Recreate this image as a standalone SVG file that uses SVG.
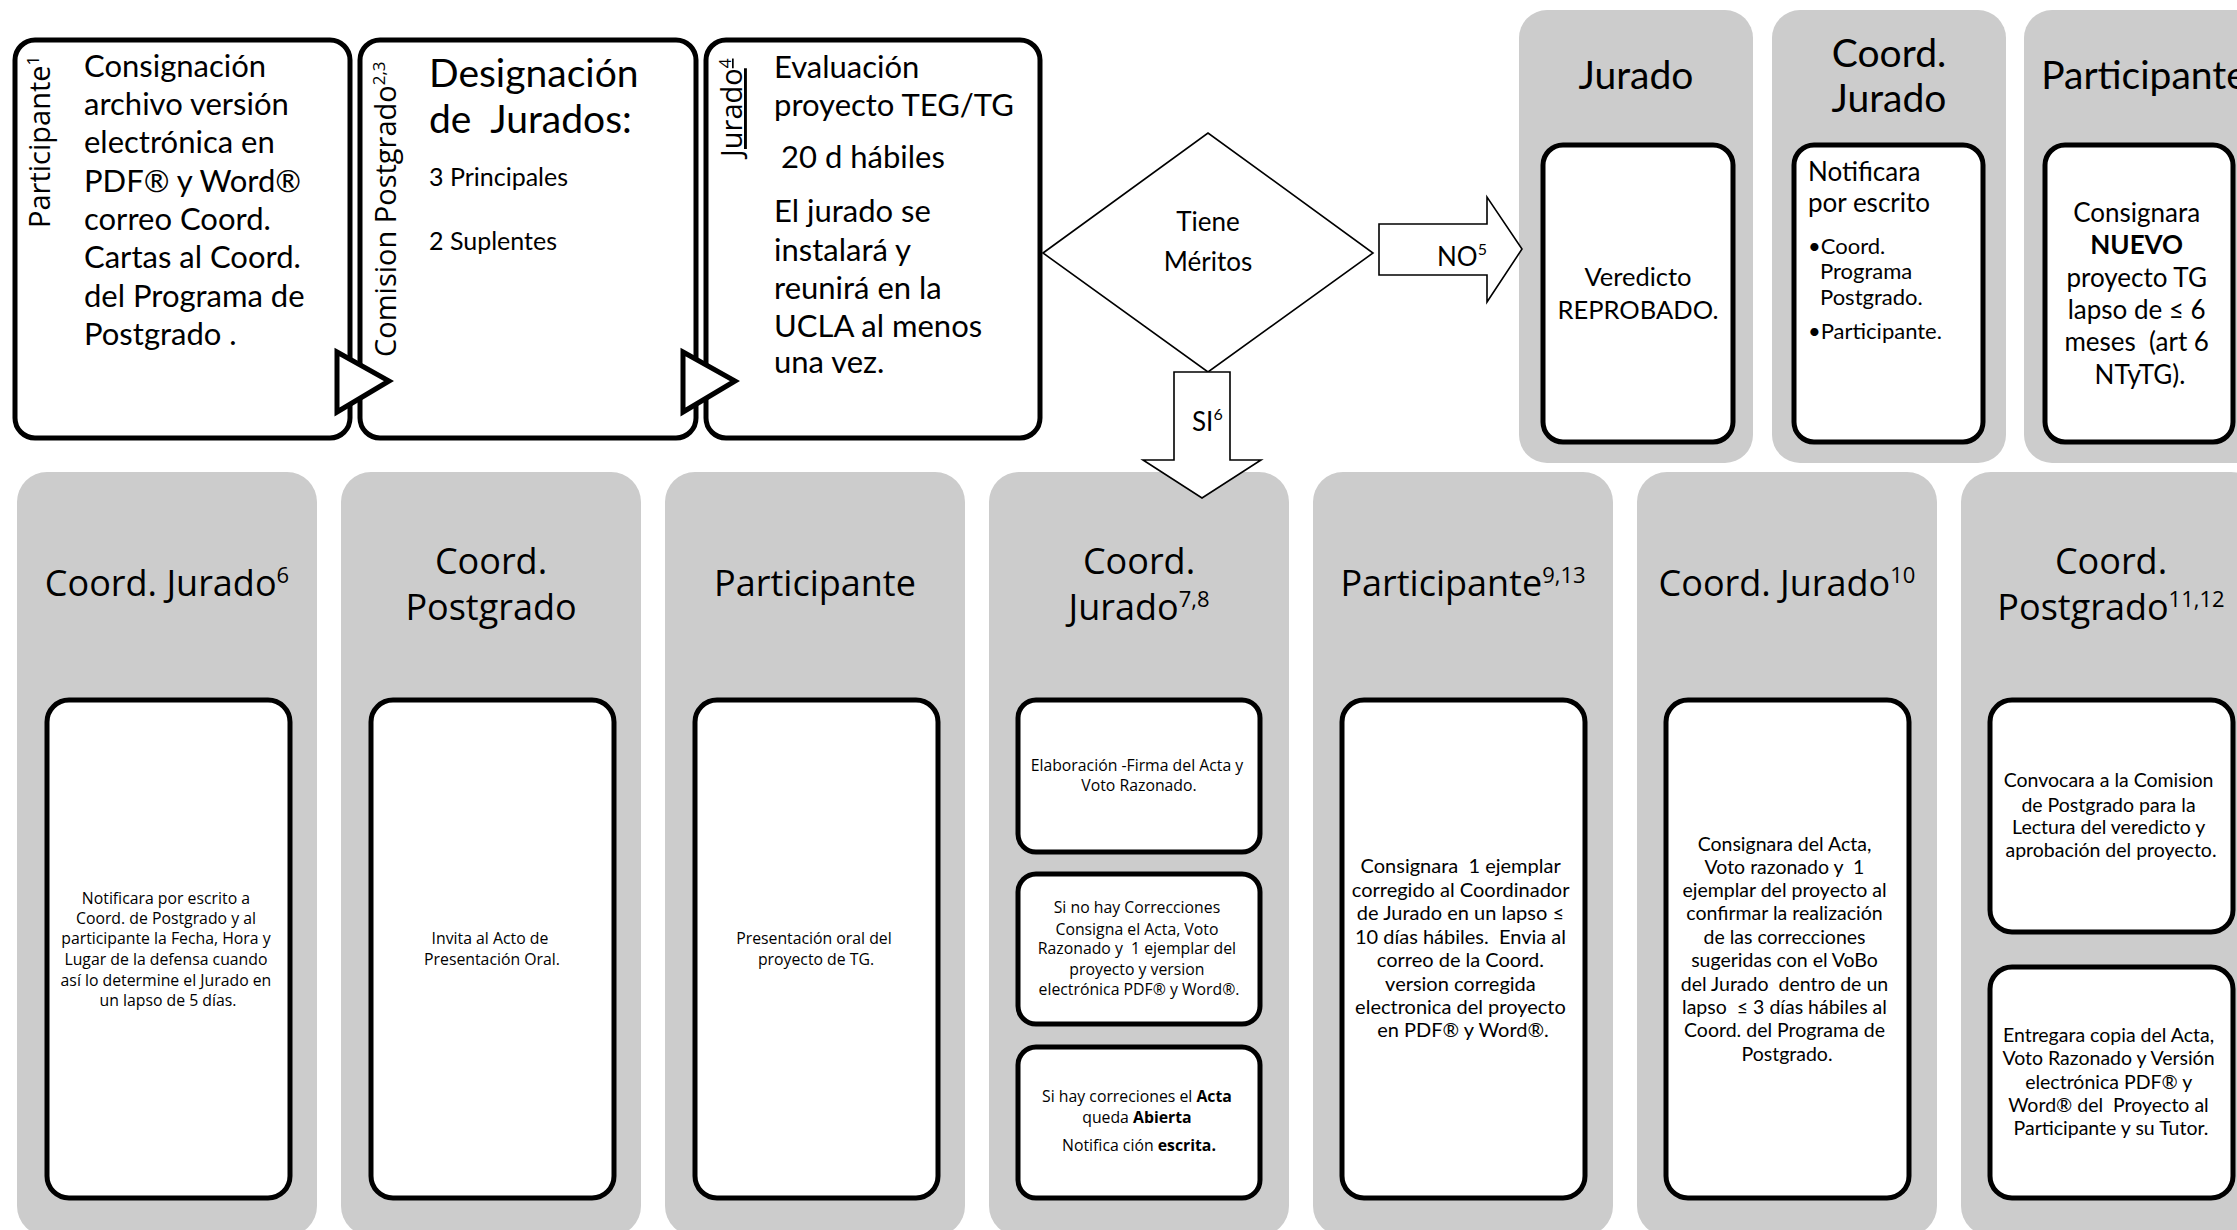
<svg xmlns="http://www.w3.org/2000/svg" width="2237" height="1230" viewBox="0 0 2237 1230">
<style>
.bg{fill:#ffffff}
.panel{fill:#cccccc}
.box{fill:#ffffff;stroke:#000000;stroke-width:5}
.thin{fill:#ffffff;stroke:#000000;stroke-width:1.6}
.tri{fill:#ffffff;stroke:#000000;stroke-width:5;stroke-linejoin:miter}
.cal{font-family:Lato,"Liberation Sans",sans-serif;fill:#000}
.os{font-family:"Open Sans","Liberation Sans",sans-serif;fill:#000}
.m{text-anchor:middle}
.b{font-weight:bold}
.t31{font-size:31px}
.h36{font-size:36px}
.h39{font-size:39px}
.s16{font-size:15.8px}
.s19{font-size:19.5px}
.s20{font-size:20px}
</style>
<rect class="bg" x="0" y="0" width="2237" height="1230"/>

<g id="top-participante">
<rect class="box" x="15" y="40" width="335" height="398" rx="20"/>
<text class="os" font-size="29" transform="translate(50,228) rotate(-90)">Participante<tspan dy="-11" font-size="17">1</tspan></text>
<text class="cal t31" x="84">
<tspan x="84" y="77">Consignación</tspan>
<tspan x="84" y="115">archivo versión</tspan>
<tspan x="84" y="153">electrónica en</tspan>
<tspan x="84" y="192">PDF® y Word®</tspan>
<tspan x="84" y="230">correo Coord.</tspan>
<tspan x="84" y="268">Cartas al Coord.</tspan>
<tspan x="84" y="307">del Programa de</tspan>
<tspan x="84" y="345">Postgrado .</tspan>
</text>
</g>

<g id="top-comision">
<rect class="box" x="360" y="40" width="336" height="398" rx="20"/>
<text class="os" font-size="29" transform="translate(396,357) rotate(-90)">Comision Postgrado<tspan dy="-11" font-size="17">2,3</tspan></text>
<text class="cal" font-size="39" x="429" y="87">Designación</text>
<text class="cal" font-size="39" x="429" y="133">de&#160; Jurados:</text>
<text class="cal" font-size="25" x="429" y="186">3 Principales</text>
<text class="cal" font-size="25" x="429" y="250">2 Suplentes</text>
</g>

<g id="top-jurado">
<rect class="box" x="706" y="40" width="334" height="398" rx="20"/>
<text class="os" font-size="29" text-decoration="underline" transform="translate(742,157) rotate(-90)">Jurado<tspan dy="-11" font-size="17">4</tspan></text>
<text class="cal t31">
<tspan x="774" y="78">Evaluación</tspan>
<tspan x="774" y="116">proyecto TEG/TG</tspan>
<tspan x="781" y="168">20 d hábiles</tspan>
<tspan x="774" y="222">El jurado se</tspan>
<tspan x="774" y="261">instalará y</tspan>
<tspan x="774" y="299">reunirá en la</tspan>
<tspan x="774" y="337">UCLA al menos</tspan>
<tspan x="774" y="373">una vez.</tspan>
</text>
</g>

<g id="decision">
<polygon class="thin" points="1043,253 1208,133 1373,253 1208,372"/>
<text class="cal m" font-size="26" x="1208" y="231">Tiene</text>
<text class="cal m" font-size="26" x="1208" y="271">Méritos</text>
</g>

<g id="panel-jurado">
<rect class="panel" x="1519" y="10" width="234" height="453" rx="28"/>
<text class="cal m h39" x="1636" y="89">Jurado</text>
<rect class="box" x="1543" y="145" width="190" height="297" rx="20"/>
<text class="cal m" font-size="25.5" x="1638" y="286">Veredicto</text>
<text class="cal m" font-size="25.5" x="1638" y="319">REPROBADO.</text>
</g>

<g id="panel-coord-jurado-top">
<rect class="panel" x="1772" y="10" width="234" height="453" rx="28"/>
<text class="cal m h39" x="1889" y="67">Coord.</text>
<text class="cal m h39" x="1889" y="112">Jurado</text>
<rect class="box" x="1794" y="145" width="189" height="297" rx="20"/>
<text class="cal" font-size="26" x="1808" y="181">Notificara</text>
<text class="cal" font-size="26" x="1808" y="212">por escrito</text>
<text class="cal" font-size="22">
<tspan x="1808" y="254">•Coord.</tspan>
<tspan x="1820" y="279">Programa</tspan>
<tspan x="1820" y="305">Postgrado.</tspan>
<tspan x="1808" y="339">•Participante.</tspan>
</text>
</g>

<g id="panel-participante-top">
<rect class="panel" x="2024" y="10" width="240" height="453" rx="28"/>
<text class="cal m h39" x="2144" y="89">Participante</text>
<rect class="box" x="2045" y="145" width="188" height="297" rx="20"/>
<text class="cal m" font-size="26">
<tspan x="2140" y="222">Consignara</tspan>
<tspan x="2140" y="254" class="b">NUEVO</tspan>
<tspan x="2140" y="287">proyecto TG</tspan>
<tspan x="2140" y="319">lapso de ≤ 6</tspan>
<tspan x="2140" y="351">meses&#160; (art 6</tspan>
<tspan x="2140" y="384">NTyTG).</tspan>
</text>
</g>

<g id="panel-coord-jurado-6">
<rect class="panel" x="17" y="472" width="300" height="764" rx="30"/>
<text class="os m h36" x="167" y="596">Coord. Jurado<tspan dy="-13" font-size="22">6</tspan></text>
<rect class="box" x="47" y="700" width="243" height="498" rx="22"/>
<text class="os m s16">
<tspan x="168" y="904">Notificara por escrito a</tspan>
<tspan x="168" y="924">Coord. de Postgrado y al</tspan>
<tspan x="168" y="944">participante la Fecha, Hora y</tspan>
<tspan x="168" y="965">Lugar de la defensa cuando</tspan>
<tspan x="168" y="986">así lo determine el Jurado en</tspan>
<tspan x="168" y="1006">un lapso de 5 días.</tspan>
</text>
</g>

<g id="panel-coord-postgrado">
<rect class="panel" x="341" y="472" width="300" height="764" rx="30"/>
<text class="os m h36" x="491" y="574">Coord.</text>
<text class="os m h36" x="491" y="620">Postgrado</text>
<rect class="box" x="371" y="700" width="243" height="498" rx="22"/>
<text class="os m s16">
<tspan x="492" y="944">Invita al Acto de</tspan>
<tspan x="492" y="965">Presentación Oral.</tspan>
</text>
</g>

<g id="panel-participante-oral">
<rect class="panel" x="665" y="472" width="300" height="764" rx="30"/>
<text class="os m h36" x="815" y="596">Participante</text>
<rect class="box" x="695" y="700" width="243" height="498" rx="22"/>
<text class="os m s16">
<tspan x="816" y="944">Presentación oral del</tspan>
<tspan x="816" y="965">proyecto de TG.</tspan>
</text>
</g>

<g id="panel-coord-jurado-78">
<rect class="panel" x="989" y="472" width="300" height="764" rx="30"/>
<text class="os m h36" x="1139" y="574">Coord.</text>
<text class="os m h36" x="1139" y="620">Jurado<tspan dy="-13" font-size="22">7,8</tspan></text>
<rect class="box" x="1018" y="700" width="242" height="152" rx="18"/>
<text class="os m s16">
<tspan x="1139" y="771">Elaboración -Firma del Acta y</tspan>
<tspan x="1139" y="791">Voto Razonado.</tspan>
</text>
<rect class="box" x="1018" y="874" width="242" height="150" rx="18"/>
<text class="os m s16">
<tspan x="1139" y="913">Si no hay Correcciones</tspan>
<tspan x="1139" y="935">Consigna el Acta, Voto</tspan>
<tspan x="1139" y="954">Razonado y&#160; 1 ejemplar del</tspan>
<tspan x="1139" y="975">proyecto y version</tspan>
<tspan x="1139" y="995">electrónica PDF® y Word®.</tspan>
</text>
<rect class="box" x="1018" y="1047" width="242" height="151" rx="18"/>
<text class="os m s16">
<tspan x="1139" y="1102">Si hay correciones el <tspan class="b">Acta</tspan></tspan>
<tspan x="1139" y="1123">queda <tspan class="b">Abierta</tspan></tspan>
<tspan x="1139" y="1151">Notifica ción <tspan class="b">escrita.</tspan></tspan>
</text>
</g>

<g id="panel-participante-913">
<rect class="panel" x="1313" y="472" width="300" height="764" rx="30"/>
<text class="os m h36" x="1463" y="596">Participante<tspan dy="-13" font-size="22">9,13</tspan></text>
<rect class="box" x="1342" y="700" width="243" height="498" rx="22"/>
<text class="cal m s20">
<tspan x="1463" y="873">Consignara&#160; 1 ejemplar</tspan>
<tspan x="1463" y="897">corregido al Coordinador</tspan>
<tspan x="1463" y="920">de Jurado en un lapso ≤</tspan>
<tspan x="1463" y="944">10 días hábiles.&#160; Envia al</tspan>
<tspan x="1463" y="967">correo de la Coord.</tspan>
<tspan x="1463" y="991">version corregida</tspan>
<tspan x="1463" y="1014">electronica del proyecto</tspan>
<tspan x="1463" y="1037">en PDF® y Word®.</tspan>
</text>
</g>

<g id="panel-coord-jurado-10">
<rect class="panel" x="1637" y="472" width="300" height="764" rx="30"/>
<text class="os m h36" x="1787" y="596">Coord. Jurado<tspan dy="-13" font-size="22">10</tspan></text>
<rect class="box" x="1666" y="700" width="243" height="498" rx="22"/>
<text class="cal m s19">
<tspan x="1787" y="851">Consignara del Acta,</tspan>
<tspan x="1787" y="874">Voto razonado y&#160; 1</tspan>
<tspan x="1787" y="897">ejemplar del proyecto al</tspan>
<tspan x="1787" y="920">confirmar la realización</tspan>
<tspan x="1787" y="944">de las correcciones</tspan>
<tspan x="1787" y="967">sugeridas con el VoBo</tspan>
<tspan x="1787" y="991">del Jurado&#160; dentro de un</tspan>
<tspan x="1787" y="1014">lapso&#160; ≤ 3 días hábiles al</tspan>
<tspan x="1787" y="1037">Coord. del Programa de</tspan>
<tspan x="1787" y="1061">Postgrado.</tspan>
</text>
</g>

<g id="panel-coord-postgrado-1112">
<rect class="panel" x="1961" y="472" width="300" height="764" rx="30"/>
<text class="os m h36" x="2111" y="574">Coord.</text>
<text class="os m h36" x="2111" y="620">Postgrado<tspan dy="-13" font-size="22">11,12</tspan></text>
<rect class="box" x="1990" y="700" width="243" height="232" rx="22"/>
<text class="cal m s19">
<tspan x="2111" y="787">Convocara a la Comision</tspan>
<tspan x="2111" y="812">de Postgrado para la</tspan>
<tspan x="2111" y="834">Lectura del veredicto y</tspan>
<tspan x="2111" y="857">aprobación del proyecto.</tspan>
</text>
<rect class="box" x="1990" y="967" width="243" height="231" rx="22"/>
<text class="cal m s19">
<tspan x="2111" y="1042">Entregara copia del Acta,</tspan>
<tspan x="2111" y="1065">Voto Razonado y Versión</tspan>
<tspan x="2111" y="1089">electrónica PDF® y</tspan>
<tspan x="2111" y="1112">Word® del&#160; Proyecto al</tspan>
<tspan x="2111" y="1135">Participante y su Tutor.</tspan>
</text>
</g>

<g id="connectors">
<polygon class="tri" points="337,352 389,381 337,412"/>
<polygon class="tri" points="683,352 735,381 683,412"/>
<polygon class="thin" points="1379,224 1487,224 1487,197 1522,249 1487,302 1487,275 1379,275"/>
<text class="cal" font-size="26" x="1437" y="266">NO<tspan dy="-11" font-size="16">5</tspan></text>
<polygon class="thin" points="1174,372 1230,372 1230,460 1261,460 1202,498 1143,460 1174,460"/>
<text class="cal" font-size="26" x="1192" y="431">SI<tspan dy="-11" font-size="16">6</tspan></text>
</g>
</svg>
